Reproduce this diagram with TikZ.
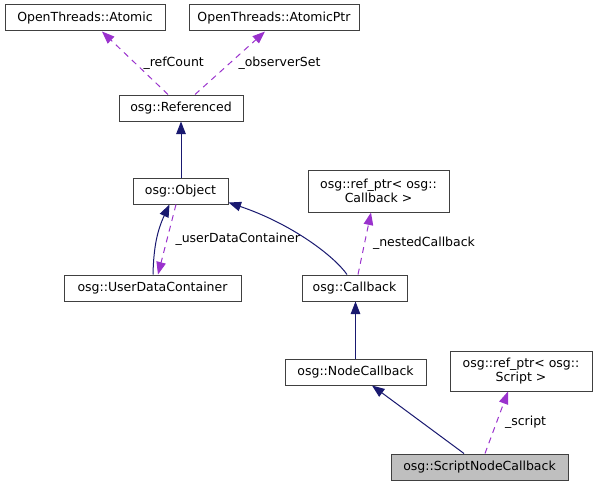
\documentclass[tikz,border=0pt]{standalone}
\usepackage{fontspec}
\setmainfont{DejaVu Sans}
\usetikzlibrary{arrows.meta}
\definecolor{inhcol}{HTML}{191970}
\definecolor{usecol}{HTML}{9A32CD}
\definecolor{boxline}{HTML}{404040}
\begin{document}
\begin{tikzpicture}[x=1pt,y=-1pt,
        font=\fontsize{12.5}{14.5}\selectfont,
        >={Triangle[length=12.5pt,width=9.5pt]},
        cls/.style={draw=boxline,line width=1pt,rectangle,inner sep=0pt,minimum height=26pt,align=center},
        inherit/.style={->,draw=inhcol,line width=1pt},
        usage/.style={->,draw=usecol,line width=1pt,dash pattern=on 6pt off 5pt},
        lbl/.style={inner sep=0pt,right=8pt}]

        \useasboundingbox (0,0) rectangle (597,487);

        %OpenThreads
        \node[cls,minimum width=160pt] (Atomic) at (85,18) {OpenThreads::Atomic};
        \node[cls,minimum width=170pt] (AtomicPtr) at (274,18) {OpenThreads::AtomicPtr};

        %Referenced und Object
        \node[cls,minimum width=124pt] (Referenced) at (181,108) {osg::Referenced};
        \node[cls,minimum width=95pt] (Object) at (180.5,191) {osg::Object};
        \node[cls,minimum width=141pt,minimum height=42pt] (CallbackPtr) at (378.5,191) {osg::ref\_ptr< osg::\\Callback >};

        %Container und Callback
        \node[cls,minimum width=177pt] (UserData) at (152.5,288) {osg::UserDataContainer};
        \node[cls,minimum width=105pt] (Callback) at (354.5,288) {osg::Callback};

        %NodeCallback
        \node[cls,minimum width=141pt] (NodeCallback) at (355.5,372) {osg::NodeCallback};
        \node[cls,minimum width=142pt,minimum height=40pt] (ScriptPtr) at (521,371) {osg::ref\_ptr< osg::\\Script >};

        %ScriptNodeCallback
        \node[cls,minimum width=177pt,fill=black!25] (ScriptNode) at (479.5,467) {osg::ScriptNodeCallback};

        \draw[usage] ([xshift=-13pt]Referenced.north) -- ([xshift=17pt]Atomic.south) node[midway,lbl] {\_refCount};
        \draw[usage] ([xshift=14pt]Referenced.north) -- ([xshift=-9pt]AtomicPtr.south) node[midway,lbl] {\_observerSet};
        \draw[inherit] (Object.north -| Referenced.south) -- (Referenced.south);
        \draw[inherit] ([xshift=0.5pt]UserData.north) to[bend left=12] ([xshift=-11pt]Object.south);
        \draw[usage] ([xshift=-4.5pt]Object.south) -- ([xshift=5.5pt]UserData.north) node[midway,lbl] {\_userDataContainer};
        \draw[inherit] ([xshift=-7.5pt]Callback.north) .. controls (334,256) and (292,224) .. ([yshift=2pt]Object.south east);
        \draw[usage] ([xshift=3.5pt]Callback.north) -- ([xshift=-7.5pt]CallbackPtr.south) node[midway,lbl] {\_nestedCallback};
        \draw[inherit] (NodeCallback.north) -- (NodeCallback.north |- Callback.south);
        \draw[inherit] ([xshift=-15.5pt]ScriptNode.north) -- ([xshift=16.5pt]NodeCallback.south);
        \draw[usage] ([xshift=5.5pt]ScriptNode.north) -- ([xshift=-13pt]ScriptPtr.south) node[midway,lbl] {\_script};
    \end{tikzpicture}
\end{document}
